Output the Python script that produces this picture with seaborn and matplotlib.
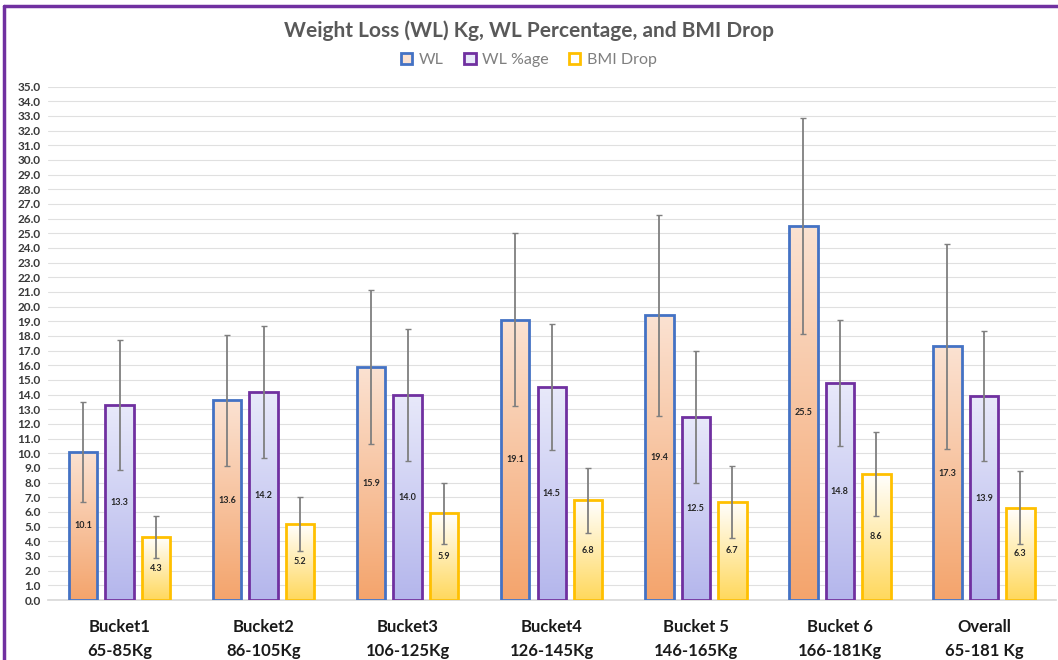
import numpy as np
import pandas as pd
import matplotlib
matplotlib.use('Agg')
import matplotlib.pyplot as plt
import seaborn as sns
from matplotlib.colors import LinearSegmentedColormap
from matplotlib.patches import Patch
from matplotlib.lines import Line2D


# =============================================================================
# Data
# =============================================================================

buckets = ['Bucket1\n65-85Kg', 'Bucket2\n86-105Kg', 'Bucket3\n106-125Kg',
           'Bucket4\n126-145Kg', 'Bucket 5\n146-165Kg', 'Bucket 6\n166-181Kg',
           'Overall\n65-181 Kg']
metrics = ['WL', 'WL %age', 'BMI Drop']

wl = [10.1, 13.6, 15.9, 19.1, 19.4, 25.5, 17.3]
wl_pct = [13.3, 14.2, 14.0, 14.5, 12.5, 14.8, 13.9]
bmi_drop = [4.3, 5.2, 5.9, 6.8, 6.7, 8.6, 6.3]

wl_sd = [3.4, 4.45, 5.25, 5.9, 6.85, 7.35, 7.0]
wl_pct_sd = [4.45, 4.5, 4.5, 4.3, 4.5, 4.3, 4.45]
bmi_drop_sd = [1.45, 1.85, 2.1, 2.2, 2.45, 2.85, 2.5]

values = [wl, wl_pct, bmi_drop]
sds = [wl_sd, wl_pct_sd, bmi_drop_sd]

edge_colors = ['#4472C4', '#7030A0', '#FFC000']
# gradient (bottom colour, top colour) per series
fills = [('#F4A46C', '#FBE2D2'), ('#B4B6EC', '#E8E9FA'), ('#FFD85C', '#FFFFFF')]

df = pd.DataFrame({
    'Bucket': buckets * 3,
    'Metric': np.repeat(metrics, len(buckets)),
    'Value': wl + wl_pct + bmi_drop,
})


# =============================================================================
# Plot
# =============================================================================

sns.set_theme(style='white')
plt.rcParams['font.family'] = ['Lato', 'DejaVu Sans']

fig = plt.figure(figsize=(10.58, 6.6), dpi=100)
ax = fig.add_axes([0.045, 0.0909, 0.953, 0.778])

sns.barplot(
    data=df,
    x='Bucket',
    y='Value',
    hue='Metric',
    order=buckets,
    hue_order=metrics,
    palette=edge_colors,
    errorbar=None,
    width=0.76,
    gap=0.22,
    ax=ax,
    zorder=3,
)
ax.get_legend().remove()

bar_containers = list(ax.containers)
for i, cont in enumerate(bar_containers):
    cmap = LinearSegmentedColormap.from_list(f'g{i}', [fills[i][0], fills[i][1]])
    grad = np.linspace(0, 1, 256).reshape(-1, 1)
    xs = []
    for bar in cont:
        bar.set_facecolor('none')
        bar.set_edgecolor(edge_colors[i])
        bar.set_linewidth(2.0)
        x0, w, h = bar.get_x(), bar.get_width(), bar.get_height()
        im = ax.imshow(grad, extent=[x0, x0 + w, 0, h], origin='lower',
                       aspect='auto', cmap=cmap, zorder=2)
        im.set_clip_path(bar)
        xs.append(x0 + w / 2)
    ax.errorbar(xs, values[i], yerr=sds[i], fmt='none', ecolor='#7F7F7F',
                elinewidth=1.3, capsize=2, capthick=1.0, zorder=4)
    ax.bar_label(cont, labels=[f'{v:.1f}' for v in values[i]], label_type='center',
                 fontsize=6.5, fontweight='bold', color='#262626', zorder=5)

ax.set_xlim(-0.5, 6.5)
ax.set_ylim(0, 35)
ax.set_yticks(np.arange(0, 36, 1))
ax.set_yticklabels([f'{t:.1f}' for t in np.arange(0, 36, 1)], fontsize=8.5,
                   color='#3A3A3A', fontweight='bold')
ax.tick_params(axis='y', length=0, pad=5)
ax.tick_params(axis='x', length=0, pad=14)
for lab in ax.get_xticklabels():
    lab.set_fontsize(12)
    lab.set_fontweight('bold')
    lab.set_color('#1A1A1A')
    lab.set_linespacing(1.6)
ax.set_xlabel('')
ax.set_ylabel('')
ax.grid(axis='y', color='#E0E0E0', lw=0.8, zorder=0)
ax.set_axisbelow(True)
for side in ['top', 'right', 'left']:
    ax.spines[side].set_visible(False)
ax.spines['bottom'].set_color('#D9D9D9')

fig.text(0.5, 0.953, 'Weight Loss (WL) Kg, WL Percentage, and BMI Drop',
         ha='center', va='center', fontsize=15, fontweight='bold', color='#595959')

handles = [Patch(facecolor=fills[i][1], edgecolor=edge_colors[i], lw=2) for i in range(3)]
fig.legend(handles, metrics, loc='center', bbox_to_anchor=(0.5, 0.909), ncol=3,
           frameon=False, fontsize=11.5, labelcolor='#7F7F7F', handlelength=0.7,
           handleheight=0.7, handletextpad=0.4, columnspacing=1.3)

# purple frame (top and left edges visible in the crop)
fig.add_artist(Line2D([0.004, 1.0], [0.991, 0.991], color='#7030A0', lw=2.5,
                      transform=fig.transFigure))
fig.add_artist(Line2D([0.004, 0.004], [0.0, 0.991], color='#7030A0', lw=2.5,
                      transform=fig.transFigure))

fig.savefig('out.png', dpi=100)
